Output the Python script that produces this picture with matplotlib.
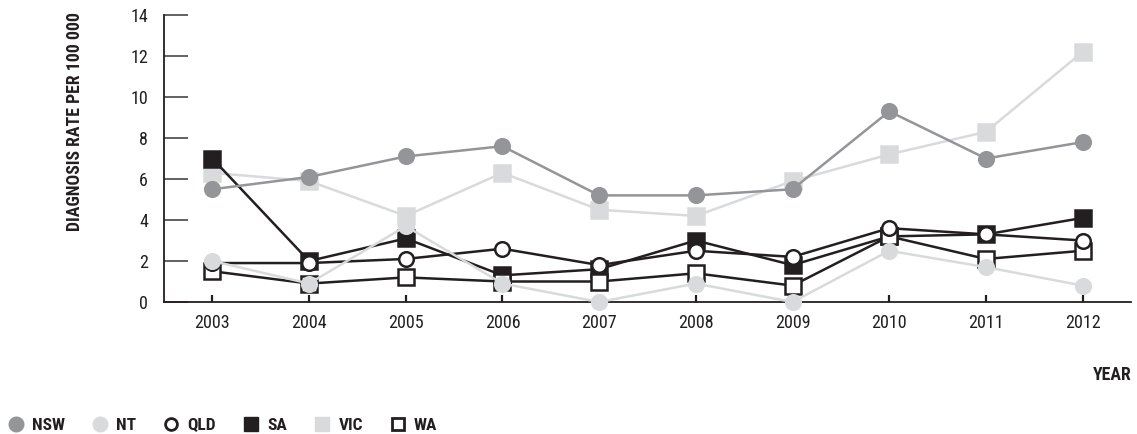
import matplotlib
matplotlib.use("Agg")
import matplotlib.pyplot as plt
from matplotlib.lines import Line2D

years = [2003, 2004, 2005, 2006, 2007, 2008, 2009, 2010, 2011, 2012]
nsw = [5.5, 6.1, 7.1, 7.6, 5.2, 5.2, 5.5, 9.3, 7.0, 7.8]
nt  = [2.0, 0.9, 3.7, 0.9, 0.0, 0.9, 0.0, 2.5, 1.7, 0.8]
qld = [1.9, 1.9, 2.1, 2.6, 1.8, 2.5, 2.2, 3.6, 3.3, 3.0]
sa  = [7.0, 2.0, 3.1, 1.3, 1.6, 3.0, 1.8, 3.2, 3.3, 4.1]
vic = [6.3, 5.9, 4.2, 6.3, 4.5, 4.2, 5.9, 7.2, 8.3, 12.2]
wa  = [1.5, 0.9, 1.2, 1.0, 1.0, 1.4, 0.8, 3.2, 2.1, 2.5]
yticks = [0, 2, 4, 6, 8, 10, 12, 14]

FONT = ['Roboto Condensed', 'Liberation Sans Narrow', 'Roboto', 'DejaVu Sans']
plt.rcParams['font.family'] = FONT
TXT = '#231f20'
DARK = '#231f20'
GRAY = '#939598'
LIGHT = '#d9dadc'

fig = plt.figure(figsize=(11.37, 4.34), dpi=100)
ax = fig.add_axes([164/1137, 132/434, (1131-164)/1137, (302-15)/434])

lw = 1.8
ms_c = 10.5
ms_s = 11.0
series = [
    (sa, 's', DARK, DARK, DARK, 'SA', ms_s, 3),
    (wa, 's', 'white', DARK, DARK, 'WA', ms_s, 3.1),
    (vic, 's', LIGHT, LIGHT, LIGHT, 'VIC', ms_s, 2.5),
    (qld, 'o', 'white', DARK, DARK, 'QLD', ms_c, 3.2),
    (nt, 'o', LIGHT, LIGHT, LIGHT, 'NT', ms_c, 3.3),
    (nsw, 'o', GRAY, GRAY, GRAY, 'NSW', ms_c, 3.4),
]
for vals, mk, fc, ec, lc, lab, ms, z in series:
    ax.plot(years, vals, color=lc, lw=lw, marker=mk, markersize=ms,
            markerfacecolor=fc, markeredgecolor=ec, markeredgewidth=1.8,
            zorder=z, clip_on=False)

ax.set_xlim(2002.5, 2012.5)
ax.set_ylim(0, 14)
ax.set_xticks(years)
ax.set_yticks(yticks)
ax.set_yticklabels([str(v) for v in yticks])
for s in ['top', 'right']:
    ax.spines[s].set_visible(False)
for s in ['left', 'bottom']:
    ax.spines[s].set_color(DARK)
    ax.spines[s].set_linewidth(1.3)
ax.tick_params(axis='y', direction='in', length=17, width=1.3, color='#555555',
               pad=11.5, labelsize=13, labelcolor=TXT)
ax.tick_params(axis='x', direction='in', length=5, width=1.6, color=DARK,
               pad=8.5, labelsize=13, labelcolor=TXT)

fig.text(75/1137, 1 - 12/434, 'DIAGNOSIS RATE PER 100 000', rotation=90,
         ha='center', va='top', fontsize=12.8, fontweight='bold', color=TXT)
fig.text(1132/1137, 1 - 375/434, 'YEAR', ha='right', va='center',
         fontsize=12.8, fontweight='bold', color=TXT)

handles = [
    Line2D([], [], ls='none', marker='o', markersize=ms_c, markerfacecolor=GRAY, markeredgecolor=GRAY),
    Line2D([], [], ls='none', marker='o', markersize=ms_c, markerfacecolor=LIGHT, markeredgecolor=LIGHT),
    Line2D([], [], ls='none', marker='o', markersize=8.5, markerfacecolor='white', markeredgecolor=DARK, markeredgewidth=2),
    Line2D([], [], ls='none', marker='s', markersize=ms_c, markerfacecolor=DARK, markeredgecolor=DARK),
    Line2D([], [], ls='none', marker='s', markersize=ms_c, markerfacecolor=LIGHT, markeredgecolor=LIGHT),
    Line2D([], [], ls='none', marker='s', markersize=9, markerfacecolor='white', markeredgecolor=DARK, markeredgewidth=2),
]
labels = ['NSW', 'NT', 'QLD', 'SA', 'VIC', 'WA']
leg = fig.legend(handles, labels, ncol=6, loc='center left',
                 bbox_to_anchor=(7 / 1137, 1 - 425/434), frameon=False,
                 handlelength=1.0, handletextpad=0.45, columnspacing=1.5,
                 borderaxespad=0, borderpad=0,
                 prop={'family': FONT, 'weight': 'bold', 'size': 12.5})
for t in leg.get_texts():
    t.set_color(TXT)

fig.savefig('out.png', dpi=100)
